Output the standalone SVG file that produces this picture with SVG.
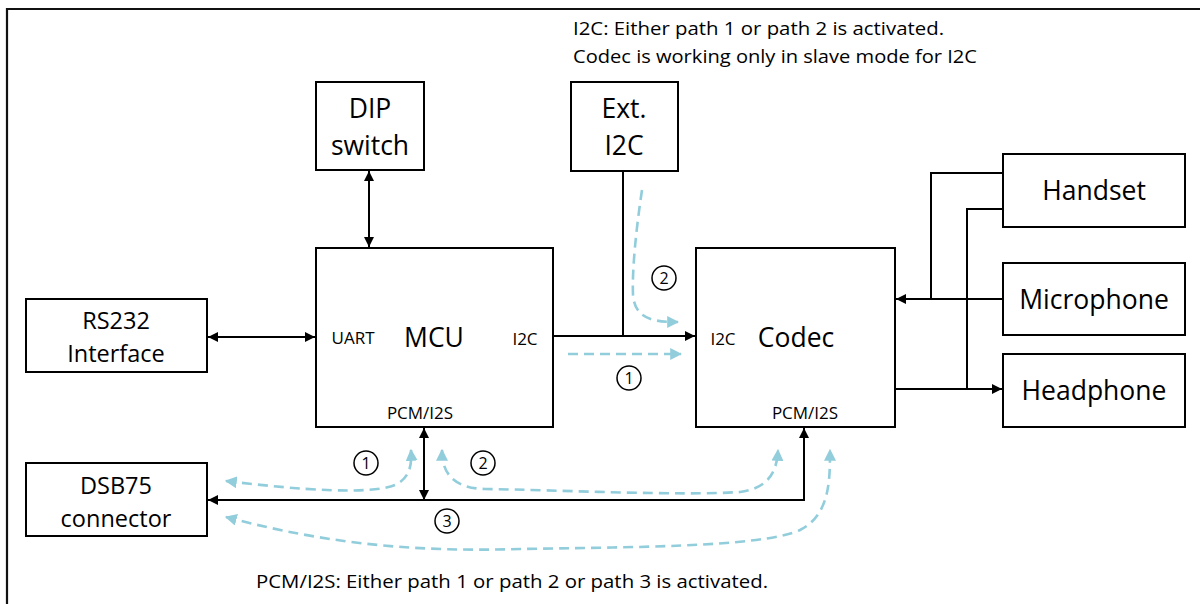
<svg xmlns="http://www.w3.org/2000/svg" width="1200" height="604" viewBox="0 0 1200 604">
<style>
.box{fill:#fff;stroke:#000;stroke-width:2}
.lbl{font-family:"Open Sans","Liberation Sans",sans-serif;font-size:26.5px;fill:#000;text-anchor:middle;dominant-baseline:central}
.lbl2{font-family:"Open Sans","Liberation Sans",sans-serif;font-size:23.5px;fill:#000;text-anchor:middle;dominant-baseline:central}
.sm{font-family:"Open Sans","Liberation Sans",sans-serif;font-size:17px;fill:#000;text-anchor:middle;dominant-baseline:central}
.note{font-family:"Open Sans","Liberation Sans",sans-serif;font-size:18.5px;fill:#000;dominant-baseline:central}
.wire{fill:none;stroke:#000;stroke-width:2}
.path{fill:none;stroke:#92CDDC;stroke-width:2.6;stroke-dasharray:10 6}
.num{fill:#fff;stroke:#000;stroke-width:1.5}
.numt{font-family:"Open Sans","Liberation Sans",sans-serif;font-size:16px;fill:#000;text-anchor:middle;dominant-baseline:central}
</style>
<defs>
<marker id="ah" viewBox="0 0 10 10" refX="10" refY="5" markerWidth="10" markerHeight="10" markerUnits="userSpaceOnUse" orient="auto-start-reverse"><path d="M0,0 L10,5 L0,10 z" fill="#000"/></marker>
<marker id="bh" viewBox="0 0 10 10" refX="9" refY="5" markerWidth="12" markerHeight="12" markerUnits="userSpaceOnUse" orient="auto-start-reverse"><path d="M0,0 L10,5 L0,10 z" fill="#92CDDC"/></marker>
</defs>
<rect width="1200" height="604" fill="#fff"/>
<path d="M7,604 V9 H1200" fill="none" stroke="#111" stroke-width="2.2"/>

<g id="notes">
<text class="note" x="573" y="27" textLength="371" lengthAdjust="spacingAndGlyphs">I2C: Either path 1 or path 2 is activated.</text>
<text class="note" x="573" y="55" textLength="404" lengthAdjust="spacingAndGlyphs">Codec is working only in slave mode for I2C</text>
<text class="note" x="256" y="580" textLength="512" lengthAdjust="spacingAndGlyphs">PCM/I2S: Either path 1 or path 2 or path 3 is activated.</text>
</g>

<g id="connectors">
<line class="wire" x1="369" y1="171" x2="369" y2="247" marker-start="url(#ah)" marker-end="url(#ah)"/>
<line class="wire" x1="208" y1="337" x2="315" y2="337" marker-start="url(#ah)" marker-end="url(#ah)"/>
<line class="wire" x1="553" y1="336" x2="695" y2="336" marker-end="url(#ah)"/>
<line class="wire" x1="623" y1="171" x2="623" y2="336"/>
<line class="wire" x1="424" y1="428" x2="424" y2="500" marker-start="url(#ah)" marker-end="url(#ah)"/>
<polyline class="wire" points="804,428 804,500 208,500" marker-start="url(#ah)" marker-end="url(#ah)"/>
<line class="wire" x1="1003" y1="299" x2="896" y2="299" marker-end="url(#ah)"/>
<polyline class="wire" points="1003,173 931,173 931,299"/>
<polyline class="wire" points="1003,209 967,209 967,389"/>
<line class="wire" x1="895" y1="389" x2="1002" y2="389" marker-end="url(#ah)"/>
</g>

<g id="paths">
<path class="path" d="M568,354 H681" marker-end="url(#bh)"/>
<path class="path" d="M642,190 C636,230 632,270 633,295 C635,320 655,322 678,322" marker-end="url(#bh)"/>
<path class="path" d="M226,481 C300,490 370,495 395,485 C410,478 412,465 411,450" marker-start="url(#bh)" marker-end="url(#bh)"/>
<path class="path" d="M442,450 C442,470 450,488 485,489 C560,490 680,496 740,492 C770,488 777,470 778,450" marker-start="url(#bh)" marker-end="url(#bh)"/>
<path class="path" d="M226,517 C330,545 420,552 520,549 C620,547 760,548 800,530 C830,515 830,480 830,450" marker-start="url(#bh)" marker-end="url(#bh)"/>
<circle class="num" cx="629" cy="378" r="12"/><text class="numt" x="629" y="378">1</text>
<circle class="num" cx="664" cy="278" r="12"/><text class="numt" x="664" y="278">2</text>
<circle class="num" cx="366" cy="463" r="12"/><text class="numt" x="366" y="463">1</text>
<circle class="num" cx="483" cy="463" r="12"/><text class="numt" x="483" y="463">2</text>
<circle class="num" cx="447" cy="521" r="12"/><text class="numt" x="447" y="521">3</text>
</g>

<g id="dip">
<rect class="box" x="316" y="82" width="108" height="88"/>
<text class="lbl" x="370" y="108">DIP</text>
<text class="lbl" x="370" y="145">switch</text>
</g>
<g id="ext-i2c">
<rect class="box" x="571" y="82" width="107" height="89"/>
<text class="lbl" x="624" y="108">Ext.</text>
<text class="lbl" x="624" y="145">I2C</text>
</g>
<g id="mcu">
<rect class="box" x="316" y="248" width="237" height="179"/>
<text class="lbl" x="434" y="337">MCU</text>
<text class="sm" x="353" y="337">UART</text>
<text class="sm" x="525" y="338">I2C</text>
<text class="sm" x="420" y="412">PCM/I2S</text>
</g>
<g id="codec">
<rect class="box" x="696" y="248" width="199" height="179"/>
<text class="lbl" x="796" y="337">Codec</text>
<text class="sm" x="723" y="338">I2C</text>
<text class="sm" x="805" y="412">PCM/I2S</text>
</g>
<g id="rs232">
<rect class="box" x="26" y="299" width="181" height="73"/>
<text class="lbl2" x="116" y="320">RS232</text>
<text class="lbl2" x="116" y="353">Interface</text>
</g>
<g id="dsb75">
<rect class="box" x="26" y="463" width="181" height="73"/>
<text class="lbl2" x="116" y="485">DSB75</text>
<text class="lbl2" x="116" y="518">connector</text>
</g>
<g id="handset">
<rect class="box" x="1003" y="154" width="182" height="73"/>
<text class="lbl" x="1094" y="190">Handset</text>
</g>
<g id="microphone">
<rect class="box" x="1003" y="263" width="182" height="72"/>
<text class="lbl" x="1094" y="299">Microphone</text>
</g>
<g id="headphone">
<rect class="box" x="1003" y="354" width="182" height="73"/>
<text class="lbl" x="1094" y="390">Headphone</text>
</g>
</svg>
